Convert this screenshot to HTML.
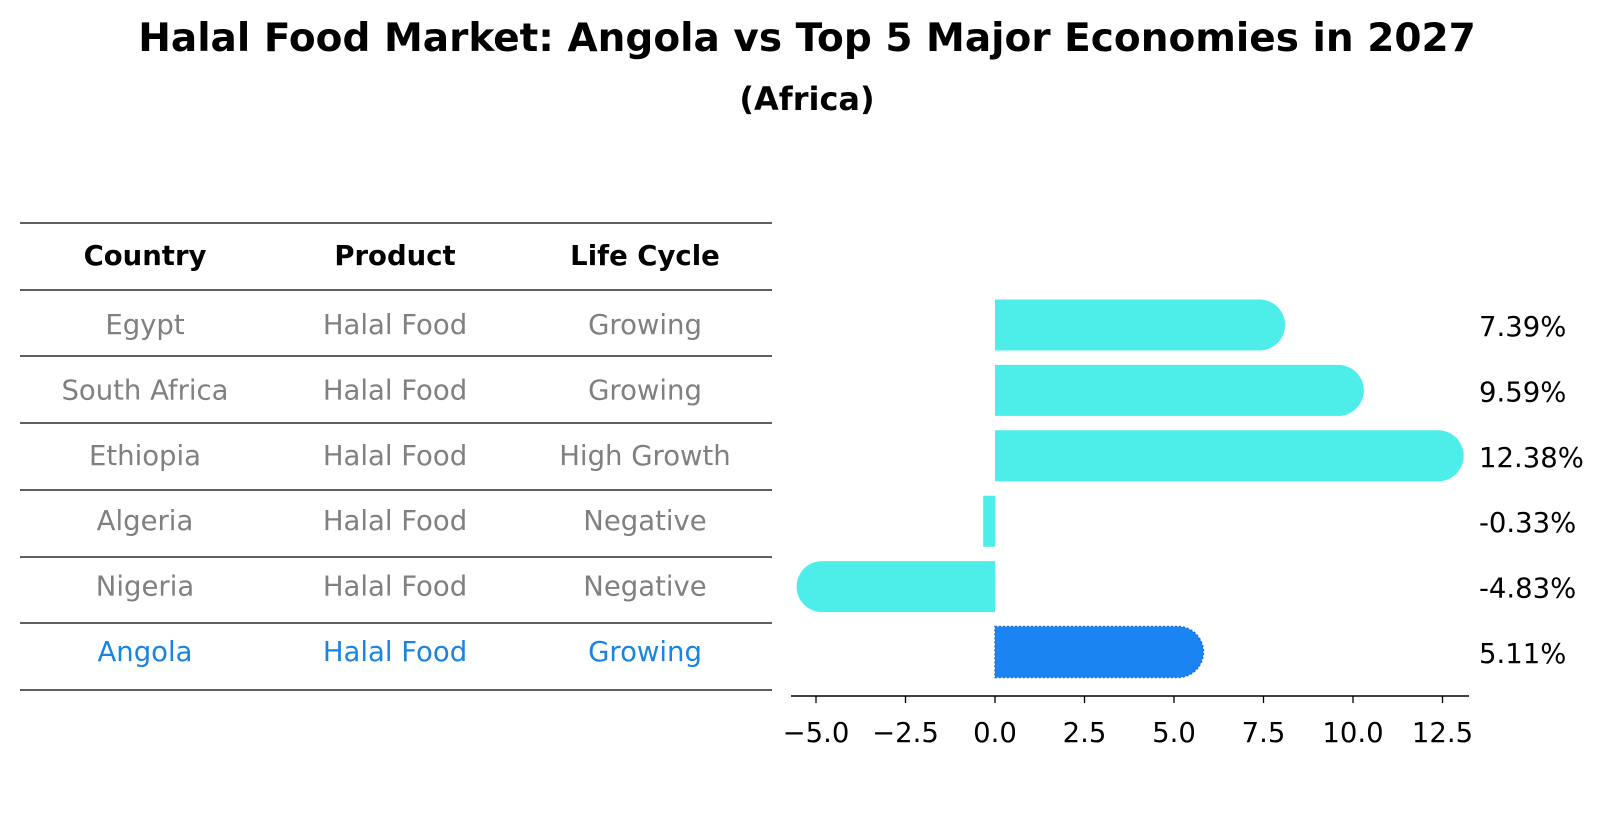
<!DOCTYPE html>
<html><head><meta charset="utf-8"><style>
body{margin:0;background:#fff;width:1604px;height:823px;overflow:hidden}
svg text{font-family:"DejaVu Sans","Liberation Sans",sans-serif}
</style></head><body>
<svg id="chart" width="1604" height="823" xmlns="http://www.w3.org/2000/svg">
<text x="807" y="51" text-anchor="middle" font-size="39" font-weight="bold">Halal Food Market: Angola vs Top 5 Major Economies in 2027</text>
<text x="807" y="110" text-anchor="middle" font-size="32" font-weight="bold">(Africa)</text>
<g id="table"></g>
<g id="bars"></g>
</svg>
<script>
const countries=["Egypt","South Africa","Ethiopia","Algeria","Nigeria","Angola"];
const products=["Halal Food","Halal Food","Halal Food","Halal Food","Halal Food","Halal Food"];
const lifeCycles=["Growing","Growing","High Growth","Negative","Negative","Growing"];
const values=[7.39,9.59,12.38,-0.33,-4.83,5.11];
const valueLabels=["7.39%","9.59%","12.38%","-0.33%","-4.83%","5.11%"];
const ticks=[-5,-2.5,0,2.5,5,7.5,10,12.5];
const tickLabels=["\u22125.0","\u22122.5","0.0","2.5","5.0","7.5","10.0","12.5"];
const NS="http://www.w3.org/2000/svg";
function mk(tag,attrs,parent){const e=document.createElementNS(NS,tag);for(const k in attrs)e.setAttribute(k,attrs[k]);parent.appendChild(e);return e;}
const xs=v=>995+v*35.8;
const rowY=i=>325+i*65.4;
const tbl=document.getElementById('table');
const lineYs=[223,290,356,423,490,557,623,690];
lineYs.forEach((y,i)=>{const l=mk('line',{x1:20,x2:772,y1:y,y2:y,stroke:'#000','stroke-width':1.2},tbl);

});
const colX=[145,395,645];
["Country","Product","Life Cycle"].forEach((h,j)=>{const t=mk('text',{x:colX[j],y:265,'text-anchor':'middle','font-size':27.5,'font-weight':'bold'},tbl);t.textContent=h;

});
countries.forEach((c,i)=>{const col=i===countries.length-1?'#1a84e0':'#808080';
[c,products[i],lifeCycles[i]].forEach((s,j)=>{const t=mk('text',{x:colX[j],y:rowY(i)+9,'text-anchor':'middle','font-size':27.5,fill:col},tbl);t.textContent=s;

});});
const g=document.getElementById('bars');
const h=51,r=25.5;
values.forEach((v,i)=>{const y=rowY(i)-h/2;const last=i===values.length-1;
const fill=last?'#1a84f2':'#4deee9';
let d;const x0=xs(0),x1=xs(v);
if(Math.abs(v)<1){d=`M${Math.min(x0,x1)},${y}H${Math.max(x0,x1)}V${y+h}H${Math.min(x0,x1)}Z`;}
else if(v>0){d=`M${x0},${y}H${x1}A${r},${r} 0 0 1 ${x1},${y+h}H${x0}Z`;}
else{d=`M${x0},${y}H${x1}A${r},${r} 0 0 0 ${x1},${y+h}H${x0}Z`;}
const p=mk('path',{d:d,fill:fill},g);
if(last){p.setAttribute('stroke','#1a6fd0');p.setAttribute('stroke-dasharray','2,2');p.setAttribute('stroke-width','1.5');}


const t=mk('text',{x:1479,y:rowY(i)+11,'font-size':27.5},g);t.textContent=valueLabels[i];

});
const ax=mk('line',{x1:791,x2:1469,y1:696,y2:696,stroke:'#000','stroke-width':1.5},g);


ticks.forEach((tv,i)=>{const l=mk('line',{x1:xs(tv),x2:xs(tv),y1:696,y2:703,stroke:'#000','stroke-width':1.3},g);


const t=mk('text',{x:xs(tv),y:742,'text-anchor':'middle','font-size':27.5},g);t.textContent=tickLabels[i];

});
</script>
</body></html>
